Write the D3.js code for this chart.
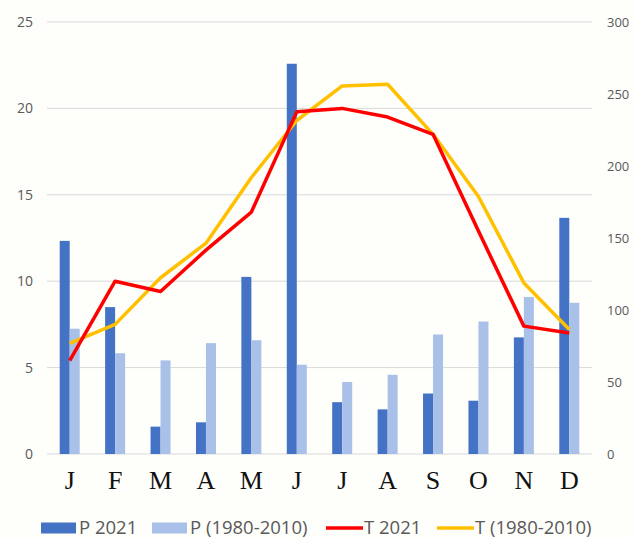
<!DOCTYPE html>
<html>
<head>
<meta charset="utf-8">
<script src="https://cdn.jsdelivr.net/npm/d3@7"></script>
<style>
  body { margin: 0; background: #fefefb; }
  svg { display: block; }
</style>
</head>
<body>
<div id="chart"></div>
<script>
// donnees
var months = ["J", "F", "M", "A", "M ", "J ", "J  ", "A ", "S", "O", "N", "D"];
var monthLabels = ["J", "F", "M", "A", "M", "J", "J", "A", "S", "O", "N", "D"];
var p2021 = [148, 102, 19, 22, 123, 271, 36, 31, 42, 37, 81, 164];       // mm, axe droit
var pNormale = [87, 70, 65, 77, 79, 62, 50, 55, 83, 92, 109, 105];       // mm, axe droit
var t2021 = [5.4, 10.0, 9.4, 11.8, 14.0, 19.8, 20.0, 19.5, 18.5, 12.9, 7.4, 7.0];   // degC, axe gauche
var tNormale = [6.4, 7.5, 10.2, 12.2, 16.0, 19.3, 21.3, 21.4, 18.5, 14.9, 9.9, 7.2];
var leftTicks = [0, 5, 10, 15, 20, 25];
var rightTicks = [0, 50, 100, 150, 200, 250, 300];
var legendLabels = ["P 2021", "P (1980-2010)", "T 2021", "T (1980-2010)"];

function drawChart() {
    var W = 635, H = 538;
    var mLeft = 47, mRight = 592, mTop = 22, mBottom = 454;
    var colBleu = "#4472c4", colBleuClair = "#a9c1e8", colRouge = "#ff0000", colJaune = "#ffc000";

    var svg = d3.select("#chart").append("svg")
        .attr("width", W).attr("height", H);

    var x = d3.scaleBand().domain(months).range([mLeft, mRight]).padding(0);
    var half = x.bandwidth() / 2;
    var xs = d3.scaleBand().domain(["p2021", "pNormale"]).range([half - 10, half + 10]);
    var yT = d3.scaleLinear().domain([0, 25]).range([mBottom, mTop]);
    var yP = d3.scaleLinear().domain([0, 300]).range([mBottom, mTop]);

    // grille
    svg.append("g").selectAll("line").data(leftTicks).join("line")
        .attr("x1", mLeft).attr("x2", mRight)
        .attr("y1", function(d){ return yT(d); }).attr("y2", function(d){ return yT(d); })
        .attr("stroke", "#d9d9d9").attr("stroke-width", 1);

    // axe gauche
    var axG = svg.append("g").attr("transform", "translate(" + (mLeft - 14) + ",0)")
        .call(d3.axisLeft(yT).tickValues(leftTicks).tickSize(0).tickPadding(0));
    axG.select(".domain").remove();
    axG.selectAll("text").attr("fill", "#595959").attr("font-size", "14px")
        .attr("font-family", "Open Sans");

    // axe droit
    var axD = svg.append("g").attr("transform", "translate(" + (mRight + 15) + ",0)")
        .call(d3.axisRight(yP).tickValues(rightTicks).tickSize(0).tickPadding(0));
    axD.select(".domain").remove();
    axD.selectAll("text").attr("fill", "#595959").attr("font-size", "13px")
        .attr("font-family", "Open Sans");

    // barres
    svg.append("g").selectAll("rect").data(p2021).join("rect")
        .attr("x", function(d, i){ return x(months[i]) + xs("p2021"); })
        .attr("width", xs.bandwidth())
        .attr("y", function(d){ return yP(d); })
        .attr("height", function(d){ return yP(0) - yP(d); })
        .attr("fill", colBleu);
    svg.append("g").selectAll("rect").data(pNormale).join("rect")
        .attr("x", function(d, i){ return x(months[i]) + xs("pNormale"); })
        .attr("width", xs.bandwidth())
        .attr("y", function(d){ return yP(d); })
        .attr("height", function(d){ return yP(0) - yP(d); })
        .attr("fill", colBleuClair);

    // courbes
    var ligne = d3.line()
        .x(function(d, i){ return x(months[i]) + half; })
        .y(function(d){ return yT(d); });
    svg.append("path").datum(tNormale).attr("d", ligne)
        .attr("fill", "none").attr("stroke", colJaune).attr("stroke-width", 3.5)
        .attr("stroke-linejoin", "round");
    svg.append("path").datum(t2021).attr("d", ligne)
        .attr("fill", "none").attr("stroke", colRouge).attr("stroke-width", 3.5)
        .attr("stroke-linejoin", "round");

    // mois
    var axX = svg.append("g").attr("transform", "translate(0," + mBottom + ")")
        .call(d3.axisBottom(x).tickSize(0).tickPadding(17)
            .tickFormat(function(d, i){ return monthLabels[i]; }));
    axX.select(".domain").remove();
    axX.selectAll("text").attr("fill", "#111").attr("font-size", "26px")
        .attr("font-family", "Liberation Serif");

    // legende
    var legX = [41, 152, 326, 437];
    var leg = svg.append("g").attr("font-family", "Open Sans").attr("font-size", "18.5px").attr("fill", "#595959");
    legendLabels.forEach(function(lab, i){
        var g = leg.append("g").attr("transform", "translate(" + legX[i] + ",528)");
        if (i < 2) {
            g.append("rect").attr("x", 0).attr("y", -5.5).attr("width", 35).attr("height", 11)
                .attr("fill", i == 0 ? colBleu : colBleuClair);
        } else {
            g.append("line").attr("x1", 0).attr("x2", 37).attr("y1", 0).attr("y2", 0)
                .attr("stroke", i == 2 ? colRouge : colJaune).attr("stroke-width", 3.5);
        }
        g.append("text").attr("x", 38).attr("y", 6).text(lab);
    });
}

drawChart();
</script>
</body>
</html>
